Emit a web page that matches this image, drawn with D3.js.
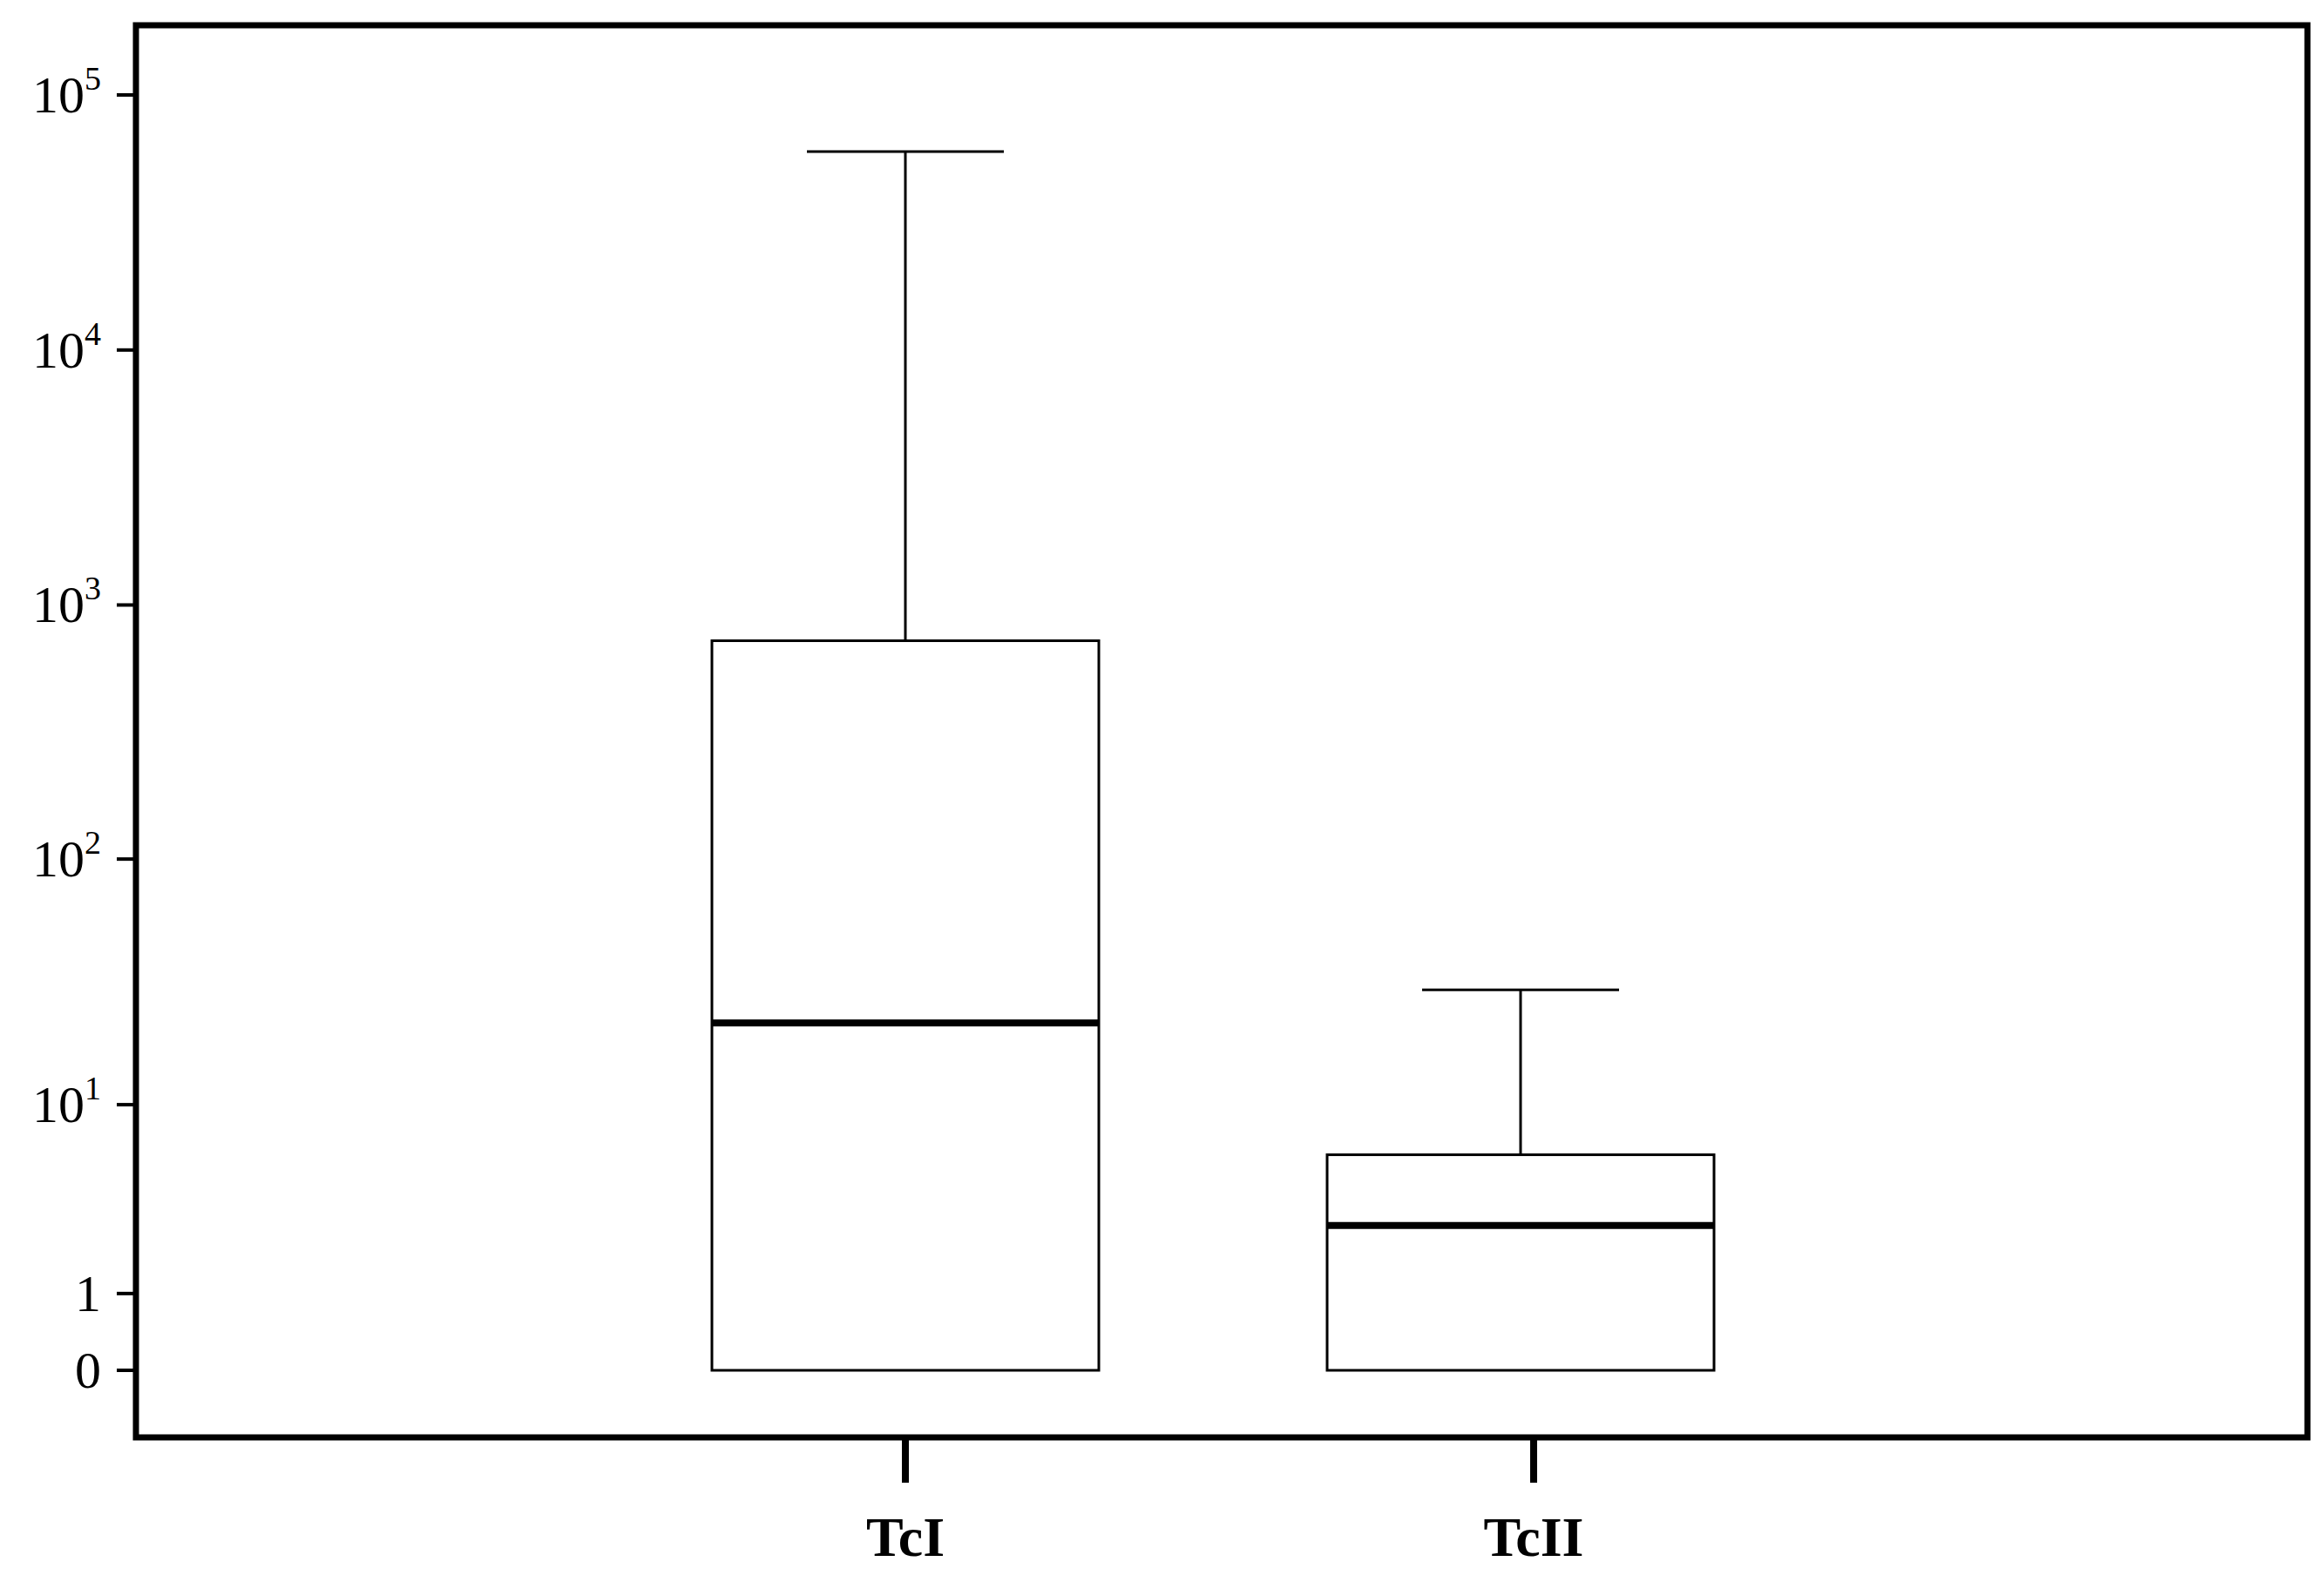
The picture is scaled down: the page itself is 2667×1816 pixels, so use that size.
<!DOCTYPE html>
<html>
<head>
<meta charset="utf-8">
<script src="https://cdn.jsdelivr.net/npm/d3@7"></script>
<style>
  body { margin: 0; background: #fff; }
  text { font-family: "Liberation Serif", "Times New Roman", serif; }
</style>
</head>
<body>
<svg id="chart" width="2667" height="1816"></svg>
<script>
// box plot values (log10(1+x) axis)
const groups = ["TcI", "TcII"];
const lower = [0, 0];
const q1 = [0, 0];
const median = [22, 2.7];
const q3 = [724, 6];
const upper = [60000, 30];
const yTicks = [0, 1, 10, 100, 1000, 10000, 100000];
const yTickExp = [null, null, 1, 2, 3, 4, 5];

var svg = d3.select("#chart");

var frame = {left: 156, top: 29, right: 2648, bottom: 1650};

var y = d3.scaleSymlog().constant(1)
    .domain([0, 100000])
    .range([1573, 109]);

var x = d3.scalePoint()
    .domain(groups)
    .range([1039, 1745]);

var boxHalf = 222, capHalf = 113;

// frame
svg.append("rect")
    .attr("x", frame.left).attr("y", frame.top)
    .attr("width", frame.right - frame.left)
    .attr("height", frame.bottom - frame.top)
    .attr("fill", "none")
    .attr("stroke", "#000")
    .attr("stroke-width", 7);

// y ticks
var yg = svg.append("g");
yTicks.forEach(function(t, i) {
    var py = y(t);
    yg.append("line")
        .attr("x1", frame.left - 22).attr("x2", frame.left)
        .attr("y1", py).attr("y2", py)
        .attr("stroke", "#000").attr("stroke-width", 4);
    var label = yg.append("text")
        .attr("x", 116).attr("y", py + 20)
        .attr("text-anchor", "end")
        .attr("font-size", 60);
    if (yTickExp[i] === null) {
        label.text(t);
    } else {
        label.append("tspan").text("10");
        label.append("tspan").attr("dy", -26).attr("font-size", 38).text(yTickExp[i]);
    }
});

// x ticks and labels
groups.forEach(function(g, i) {
    var px = x(g) + (i === 1 ? 15 : 0);
    svg.append("line")
        .attr("x1", px).attr("x2", px)
        .attr("y1", frame.bottom).attr("y2", frame.bottom + 52)
        .attr("stroke", "#000").attr("stroke-width", 8);
    svg.append("text")
        .attr("x", px).attr("y", 1786)
        .attr("text-anchor", "middle")
        .attr("font-size", 64)
        .attr("font-weight", "bold")
        .text(g);
});

// boxes
groups.forEach(function(g, i) {
    var cx = x(g);
    var b = svg.append("g");
    b.append("line")
        .attr("x1", cx).attr("x2", cx)
        .attr("y1", y(q3[i])).attr("y2", y(upper[i]))
        .attr("stroke", "#000").attr("stroke-width", 3);
    b.append("line")
        .attr("x1", cx - capHalf).attr("x2", cx + capHalf)
        .attr("y1", y(upper[i])).attr("y2", y(upper[i]))
        .attr("stroke", "#000").attr("stroke-width", 3);
    b.append("rect")
        .attr("x", cx - boxHalf).attr("y", y(q3[i]))
        .attr("width", boxHalf * 2)
        .attr("height", y(q1[i]) - y(q3[i]))
        .attr("fill", "#fff")
        .attr("stroke", "#000").attr("stroke-width", 3);
    b.append("line")
        .attr("x1", cx - boxHalf).attr("x2", cx + boxHalf)
        .attr("y1", y(median[i])).attr("y2", y(median[i]))
        .attr("stroke", "#000").attr("stroke-width", 8);
});
</script>
</body>
</html>
